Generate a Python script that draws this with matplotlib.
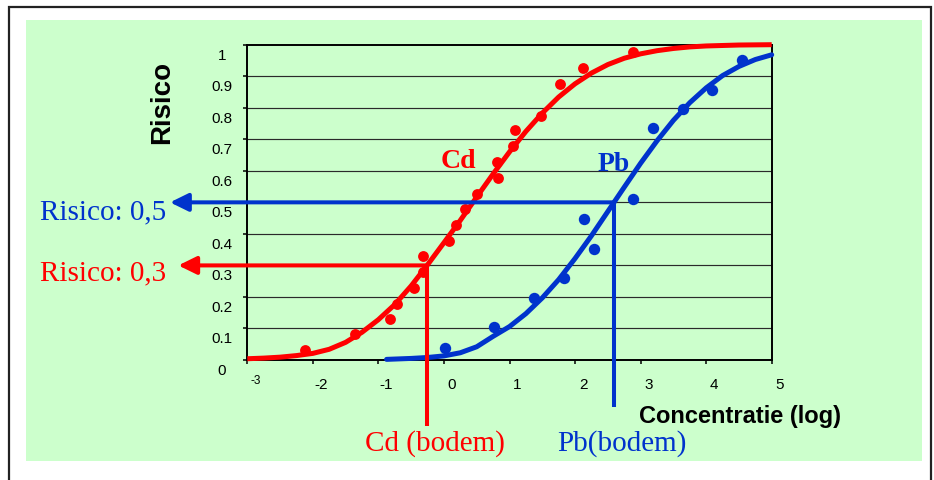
import matplotlib
matplotlib.use("Agg")
import matplotlib.pyplot as plt
import matplotlib.transforms as mtrans
from matplotlib.patches import Rectangle

W, H = 934, 481

# ---------------- data ----------------
x_ticks = [-3, -2, -1, 0, 1, 2, 3, 4, 5]
x_tick_labels = ["-3", "-2", "-1", "0", "1", "2", "3", "4", "5"]
y_ticks = [0, 0.1, 0.2, 0.3, 0.4, 0.5, 0.6, 0.7, 0.8, 0.9, 1.0]
y_tick_labels = ["0", "0.1", "0.2", "0.3", "0.4", "0.5", "0.6", "0.7", "0.8", "0.9", "1"]

cd_points_x = [-2.12, -1.36, -0.83, -0.71, -0.45, -0.32, -0.32, 0.07, 0.19, 0.32,
               0.50, 0.83, 0.81, 1.05, 1.09, 1.48, 1.77, 2.12, 2.89]
cd_points_y = [0.032, 0.083, 0.130, 0.178, 0.228, 0.329, 0.280, 0.379, 0.429, 0.479,
               0.527, 0.578, 0.628, 0.679, 0.730, 0.774, 0.874, 0.926, 0.977]

pb_points_x = [0.02, 0.76, 1.37, 1.83, 2.13, 2.29, 2.89, 3.19, 3.64, 4.09, 4.55]
pb_points_y = [0.038, 0.104, 0.197, 0.261, 0.448, 0.352, 0.511, 0.736, 0.797, 0.857, 0.952]

cd_curve_x = [-3.0, -2.75, -2.5, -2.25, -2.0, -1.75, -1.5, -1.25, -1.0, -0.75, -0.5,
              -0.25, 0.0, 0.25, 0.5, 0.75, 1.0, 1.25, 1.5, 1.75, 2.0, 2.25, 2.5,
              2.75, 3.0, 3.25, 3.5, 3.75, 4.0, 4.5, 5.0]
cd_curve_y = [0.004, 0.006, 0.009, 0.014, 0.021, 0.034, 0.056, 0.088, 0.128, 0.176, 0.235,
              0.302, 0.372, 0.443, 0.517, 0.590, 0.660, 0.725, 0.783, 0.834, 0.876, 0.910, 0.937,
              0.957, 0.971, 0.981, 0.988, 0.993, 0.996, 0.999, 1.0]

pb_curve_x = [-0.875, -0.75, -0.5, -0.25, 0.0, 0.25, 0.5, 0.75, 1.0, 1.25, 1.5, 1.75,
              2.0, 2.25, 2.5, 2.75, 3.0, 3.25, 3.5, 3.75, 4.0, 4.25, 4.5, 4.75, 5.0]
pb_curve_y = [0.002, 0.003, 0.005, 0.008, 0.013, 0.023, 0.042, 0.075, 0.106, 0.147, 0.197, 0.255,
              0.322, 0.394, 0.471, 0.548, 0.624, 0.695, 0.760, 0.816, 0.863, 0.902, 0.931, 0.953, 0.968]

cd_risk = 0.3
pb_risk = 0.5
cd_soil = -0.26
pb_soil = 2.59

# ---------------- style ----------------
RED = "#FF0000"
BLUE = "#0033CC"
GREEN = "#CCFFCC"
SANS = ["Liberation Sans", "DejaVu Sans"]
SERIF = ["Liberation Serif", "DejaVu Serif"]

fig = plt.figure(figsize=(W / 100, H / 100), dpi=100, facecolor="white")


def fx(x):
    return x / W


def fy(y):
    return 1 - y / H


# outer black frame and green panel (behind the axes)
fig.patches.append(Rectangle((fx(9), fy(495)), fx(931) - fx(9), fy(8) - fy(495),
                             transform=fig.transFigure, facecolor="none",
                             edgecolor="#222222", linewidth=1.6, zorder=-2))
fig.patches.append(Rectangle((fx(26), fy(461.7)), fx(921.7) - fx(26), fy(21) - fy(461.7),
                             transform=fig.transFigure, facecolor=GREEN,
                             edgecolor="none", zorder=-1))

ax_l, ax_r, ax_t, ax_b = 247.3, 771.7, 45.7, 361.0
ax = fig.add_axes([fx(ax_l), fy(ax_b), fx(ax_r) - fx(ax_l), fy(ax_t) - fy(ax_b)])
ax.set_zorder(1)
ax.set_facecolor(GREEN)
ax.set_xlim(-3, 5)
ax.set_ylim(0, 1)
for s in ax.spines.values():
    s.set_color("black")
    s.set_linewidth(1.4)
    s.set_zorder(3)

ax.set_xticks(x_ticks)
ax.set_yticks(y_ticks)
ax.tick_params(axis="both", direction="out", length=3, width=1.1, color="black",
               labelleft=False, labelbottom=False)
for yv in y_ticks[1:-1]:
    ax.axhline(yv, color="#2a2a2a", linewidth=0.85, zorder=1)

# tick labels (Excel-like offsets)
px_axes_w = ax_r - ax_l
ylab_tr = mtrans.blended_transform_factory(ax.transAxes, ax.transData) + \
    mtrans.ScaledTranslation(0, -10 / 100, fig.dpi_scale_trans)
for yv, lab in zip(y_ticks, y_tick_labels):
    ax.text((222 - ax_l) / px_axes_w, yv, lab, transform=ylab_tr, ha="center",
            va="center", fontsize=11, family=SANS, color="black", clip_on=False)

xlab_tr = mtrans.blended_transform_factory(ax.transData, ax.transAxes) + \
    mtrans.ScaledTranslation(8 / 100, 0, fig.dpi_scale_trans)
ylab_pos = -(385 - ax_b) / (ax_b - ax_t)
for i, (xv, lab) in enumerate(zip(x_ticks, x_tick_labels)):
    if i == 0:
        ax.text(xv, -(381.5 - ax_b) / (ax_b - ax_t), lab, transform=xlab_tr, ha="center",
                va="center", fontsize=8.5, family=SANS, color="black", clip_on=False)
    else:
        ax.text(xv, ylab_pos, lab, transform=xlab_tr, ha="center", va="center",
                fontsize=11, family=SANS, color="black", clip_on=False)

# curves and points
ax.plot(cd_curve_x, cd_curve_y, color=RED, linewidth=3.6, solid_capstyle="butt",
        zorder=4, clip_on=False)
ax.plot(pb_curve_x, pb_curve_y, color=BLUE, linewidth=3.6, solid_capstyle="round",
        zorder=4, clip_on=False)
ax.plot(cd_points_x, cd_points_y, "o", color=RED, markersize=7.8, markeredgewidth=0,
        zorder=5, clip_on=False)
ax.plot(pb_points_x, pb_points_y, "o", color=BLUE, markersize=8.2, markeredgewidth=0,
        zorder=5, clip_on=False)

# reference lines with arrows
bl = mtrans.blended_transform_factory(ax.transAxes, ax.transData)
for conc, risk, col, tip_px, bottom_px in [(cd_soil, cd_risk, RED, 178.3, 426.7),
                                          (pb_soil, pb_risk, BLUE, 170.0, 408.3)]:
    tip = (tip_px - ax_l) / px_axes_w
    ax.annotate("", xy=(tip, risk), xycoords=bl, xytext=(conc, risk), textcoords="data",
                arrowprops=dict(arrowstyle="-|>,head_length=0.55,head_width=0.27",
                                color=col, lw=2.9, shrinkA=0, shrinkB=0,
                                mutation_scale=20),
                annotation_clip=False, zorder=6)
    bottom_val = -(bottom_px - ax_b) / (ax_b - ax_t)  # below the axis, in risk units
    ax.plot([conc, conc], [risk, bottom_val], color=col, lw=2.9,
            solid_capstyle="butt", zorder=6, clip_on=False)

# texts
fig.text(fx(161.7), fy(102.5), "Risico", rotation=90, ha="center", va="center",
         fontsize=20, fontweight="bold", family=SANS)
fig.text(fx(739.7), fy(422.7), "Concentratie (log)", ha="center", va="baseline",
         fontsize=17, fontweight="bold", family=SANS)
fig.text(fx(40), fy(219.3), "Risico: 0,5", ha="left", va="baseline", fontsize=21,
         family=SERIF, color=BLUE)
fig.text(fx(40), fy(280.7), "Risico: 0,3", ha="left", va="baseline", fontsize=21,
         family=SERIF, color=RED)
fig.text(fx(365), fy(451), "Cd (bodem)", ha="left", va="baseline", fontsize=21,
         family=SERIF, color=RED)
fig.text(fx(557), fy(450.7), "Pb(bodem)", ha="left", va="baseline", fontsize=21,
         family=SERIF, color=BLUE)
fig.text(fx(441), fy(168.3), "Cd", ha="left", va="baseline", fontsize=20,
         fontweight="bold", family=SERIF, color=RED)
fig.text(fx(597.7), fy(171), "Pb", ha="left", va="baseline", fontsize=20,
         fontweight="bold", family=SERIF, color=BLUE)

fig.savefig("out.png", dpi=100, facecolor="white")
